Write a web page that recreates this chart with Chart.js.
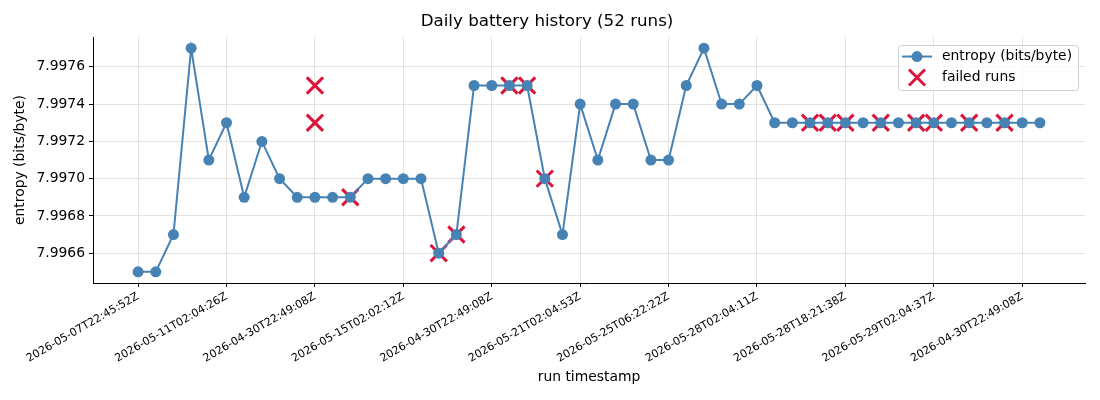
<!DOCTYPE html>
<html>
<head>
<meta charset="utf-8">
<script src="https://cdn.jsdelivr.net/npm/chart.js@4.4.1/dist/chart.umd.min.js"></script>
<style>
  html, body { margin: 0; padding: 0; background: #fff; }
  #wrap { width: 1100px; height: 400px; }
</style>
</head>
<body>
<div id="wrap"><canvas id="batteryChart" width="1100" height="400"></canvas></div>
<script>
// entropy per run (52 runs), in run order
const entropy = [
    7.9965, 7.9965, 7.9967, 7.9977, 7.9971, 7.9973, 7.9969, 7.9972, 7.9970, 7.9969,
    7.9969, 7.9969, 7.9969, 7.9970, 7.9970, 7.9970, 7.9970, 7.9966, 7.9967, 7.9975,
    7.9975, 7.9975, 7.9975, 7.9970, 7.9967, 7.9974, 7.9971, 7.9974, 7.9974, 7.9971,
    7.9971, 7.9975, 7.9977, 7.9974, 7.9974, 7.9975, 7.9973, 7.9973, 7.9973, 7.9973,
    7.9973, 7.9973, 7.9973, 7.9973, 7.9973, 7.9973, 7.9973, 7.9973, 7.9973, 7.9973,
    7.9973, 7.9973
];

// failed runs: run index and entropy value
const failedIdx = [10, 10, 12, 17, 18, 21, 22, 23, 38, 39, 40, 42, 44, 45, 47, 49];
const failedVals = [7.9975, 7.9973, 7.9969, 7.9966, 7.9967, 7.9975, 7.9975, 7.9970,
    7.9973, 7.9973, 7.9973, 7.9973, 7.9973, 7.9973, 7.9973, 7.9973];

// tick labels shown every 5th run
const tickIdx = [0, 5, 10, 15, 20, 25, 30, 35, 40, 45, 50];
const tickLabels = [
    '2026-05-07T22:45:52Z', '2026-05-11T02:04:26Z', '2026-04-30T22:49:08Z',
    '2026-05-15T02:02:12Z', '2026-04-30T22:49:08Z', '2026-05-21T02:04:53Z',
    '2026-05-25T06:22:22Z', '2026-05-28T02:04:11Z', '2026-05-28T18:21:38Z',
    '2026-05-29T02:04:37Z', '2026-04-30T22:49:08Z'
];
const yTicks = [7.9966, 7.9968, 7.9970, 7.9972, 7.9974, 7.9976];

const BLUE = '#4682b4';
const RED = '#dc143c';
const FONT = "'DejaVu Sans', sans-serif";

Chart.defaults.font.family = FONT;
Chart.defaults.color = '#000';

// legend drawn inside the plot, top right, like matplotlib
const insideLegend = {
    id: 'insideLegend',
    afterDraw(chart) {
        const ctx = chart.ctx;
        const area = chart.chartArea;
        const w = 180, h = 45;
        const x = area.right - 7 - w, y = area.top + 8;
        ctx.save();
        ctx.fillStyle = 'rgba(255,255,255,0.8)';
        ctx.strokeStyle = '#d0d0d0';
        ctx.lineWidth = 1;
        ctx.beginPath();
        ctx.roundRect(x + 0.5, y + 0.5, w, h, 3);
        ctx.fill();
        ctx.stroke();

        const r1 = y + 11.5, r2 = y + 32.5;
        ctx.strokeStyle = BLUE;
        ctx.lineWidth = 2;
        ctx.beginPath();
        ctx.moveTo(x + 4, r1);
        ctx.lineTo(x + 34, r1);
        ctx.stroke();
        ctx.fillStyle = BLUE;
        ctx.beginPath();
        ctx.arc(x + 19, r1, 5.5, 0, Math.PI * 2);
        ctx.fill();

        ctx.strokeStyle = RED;
        ctx.lineWidth = 3;
        const d = 8;
        ctx.beginPath();
        ctx.moveTo(x + 19 - d, r2 - d);
        ctx.lineTo(x + 19 + d, r2 + d);
        ctx.moveTo(x + 19 + d, r2 - d);
        ctx.lineTo(x + 19 - d, r2 + d);
        ctx.stroke();

        ctx.fillStyle = '#000';
        ctx.font = '13.9px ' + FONT;
        ctx.textBaseline = 'middle';
        ctx.textAlign = 'left';
        ctx.fillText('entropy (bits/byte)', x + 44, r1);
        ctx.fillText('failed runs', x + 44, r2);
        ctx.restore();
    }
};

const ctx = document.getElementById('batteryChart').getContext('2d');
new Chart(ctx, {
    type: 'line',
    data: {
        datasets: [{
            label: 'entropy (bits/byte)',
            data: entropy.map((v, i) => ({ x: i, y: v })),
            borderColor: BLUE,
            backgroundColor: BLUE,
            borderWidth: 2,
            pointRadius: 5.5,
            pointBorderWidth: 0,
            pointHoverRadius: 5.5,
            tension: 0,
            order: 0
        }, {
            type: 'scatter',
            label: 'failed runs',
            data: failedIdx.map((i, k) => ({ x: i, y: failedVals[k] })),
            pointStyle: 'crossRot',
            pointRadius: 11.5,
            pointBorderWidth: 3,
            borderColor: RED,
            backgroundColor: RED,
            showLine: false,
            order: 1
        }]
    },
    options: {
        responsive: false,
        animation: false,
        layout: { padding: { left: 9, right: 15, top: 0, bottom: 11 } },
        plugins: {
            legend: { display: false },
            tooltip: { enabled: false },
            title: {
                display: true,
                text: 'Daily battery history (52 runs)',
                font: { size: 16.7, weight: 'normal' },
                color: '#000',
                padding: { top: 12, bottom: 5 }
            }
        },
        scales: {
            x: {
                type: 'linear',
                min: -2.55,
                max: 53.55,
                afterBuildTicks: axis => { axis.ticks = tickIdx.map(v => ({ value: v })); },
                afterFit: axis => { axis.height = 106; },
                ticks: {
                    autoSkip: false,
                    maxRotation: 30,
                    minRotation: 30,
                    padding: 3,
                    font: { size: 11 },
                    callback: v => tickLabels[tickIdx.indexOf(v)]
                },
                grid: { color: '#e3e3e3', tickColor: '#000', tickLength: 4 },
                border: { color: '#000', width: 1 },
                title: {
                    display: true,
                    text: 'run timestamp',
                    font: { size: 13.9 },
                    padding: { top: 0, bottom: 3 }
                }
            },
            y: {
                min: 7.99644,
                max: 7.99776,
                afterBuildTicks: axis => { axis.ticks = yTicks.map(v => ({ value: v })); },
                afterFit: axis => { axis.width = 84; },
                ticks: {
                    padding: 4,
                    font: { size: 13.9 },
                    callback: v => v.toFixed(4)
                },
                grid: { color: '#e3e3e3', tickColor: '#000', tickLength: 4 },
                border: { color: '#000', width: 1 },
                title: {
                    display: true,
                    text: 'entropy (bits/byte)',
                    font: { size: 13.9 },
                    padding: { top: 3, bottom: 4 }
                }
            }
        }
    },
    plugins: [insideLegend]
});
</script>
</body>
</html>
